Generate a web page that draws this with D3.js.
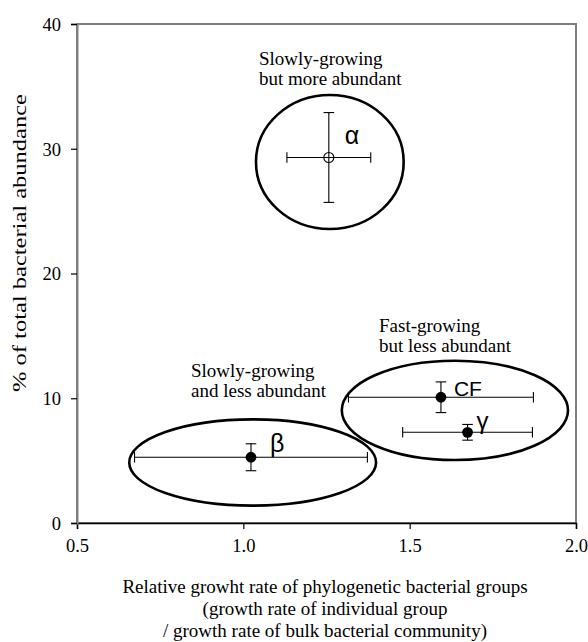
<!DOCTYPE html>
<html><head><meta charset="utf-8">
<script src="https://cdn.jsdelivr.net/npm/d3@7"></script>
<style>body{margin:0;background:#fff}svg{display:block}</style>
</head><body>
<script>
// ---- data ----
const groups = ["alpha", "beta", "CF", "gamma"];
const labels = ["α", "β", "CF", "γ"];
const growth = [1.257, 1.023, 1.594, 1.674];
const growthErr = [0.126, 0.350, 0.278, 0.195];
const abundance = [29.3, 5.27, 10.08, 7.27];
const abundanceErr = [3.6, 1.08, 1.23, 0.63];
const openMarker = [true, false, false, false];
// group ellipses (data units): centre x, centre y, radius x, radius y
const ellCx = [1.260, 1.028, 1.636];
const ellCy = [28.94, 4.85, 9.03];
const ellRx = [0.222, 0.371, 0.340];
const ellRy = [5.37, 3.46, 3.98];
const notes = [["Slowly-growing", "but more abundant"], ["Slowly-growing", "and less abundant"], ["Fast-growing", "but less abundant"]];
const xTicks = [0.5, 1.0, 1.5, 2.0];
const yTicks = [0, 10, 20, 30, 40];
const xTitle = ["Relative growht rate of phylogenetic bacterial groups", "(growth rate of individual group", "/ growth rate of bulk bacterial community)"];
const yTitle = "% of total bacterial abundance";

const W = 588, H = 642;
const L = 77, R = 576, T = 24, B = 523;
const serif = "'Liberation Serif','Times New Roman',serif";
const sans = "'Liberation Sans',Arial,sans-serif";

const svg = d3.select("body").append("svg").attr("width", W).attr("height", H);
const x = d3.scaleLinear().domain([0.5, 2.0]).range([L, R]);
const y = d3.scaleLinear().domain([0, 40]).range([B, T]);

// frame
svg.append("rect").attr("x", L).attr("y", T).attr("width", R - L).attr("height", B - T)
  .attr("fill", "none").attr("stroke", "#7f7f7f").attr("stroke-width", 2);

// axes
const xa = svg.append("g").attr("transform", `translate(0,${B})`)
  .call(d3.axisBottom(x).tickValues(xTicks).tickFormat(d3.format(".1f")).tickSize(6).tickPadding(10));
const ya = svg.append("g").attr("transform", `translate(${L},0)`)
  .call(d3.axisLeft(y).tickValues(yTicks).tickFormat(d3.format("d")).tickSize(6).tickPadding(10));
[xa, ya].forEach(g => {
  g.selectAll("text").attr("font-family", serif).attr("font-size", 18.5).attr("fill", "#000");
});
xa.select(".domain").attr("stroke", "#000").attr("stroke-width", 1.5);
xa.selectAll(".tick line").attr("stroke", "#000").attr("stroke-width", 1.2);
ya.select(".domain").attr("stroke", "#7f7f7f").attr("stroke-width", 2);
ya.selectAll(".tick line").attr("stroke", "#000").attr("stroke-width", 1.2);
ya.selectAll("text").attr("dy", "0.35em");

// ellipses
svg.append("g").selectAll("ellipse").data(ellCx).join("ellipse")
  .attr("cx", (d, i) => x(d)).attr("cy", (d, i) => y(ellCy[i]))
  .attr("rx", (d, i) => x(ellCx[i] + ellRx[i]) - x(ellCx[i]))
  .attr("ry", (d, i) => y(ellCy[i] - ellRy[i]) - y(ellCy[i]))
  .attr("fill", "none").attr("stroke", "#000").attr("stroke-width", 2.6);

// error bars
const eb = svg.append("g").attr("stroke", "#000").attr("stroke-width", 1.1);
const cap = 5.3;
groups.forEach((g, i) => {
  const cx = x(growth[i]), cy = y(abundance[i]);
  const x0 = x(growth[i] - growthErr[i]), x1 = x(growth[i] + growthErr[i]);
  const y0 = y(abundance[i] - abundanceErr[i]), y1 = y(abundance[i] + abundanceErr[i]);
  eb.append("line").attr("x1", x0).attr("x2", x1).attr("y1", cy).attr("y2", cy);
  eb.append("line").attr("x1", x0).attr("x2", x0).attr("y1", cy - cap).attr("y2", cy + cap);
  eb.append("line").attr("x1", x1).attr("x2", x1).attr("y1", cy - cap).attr("y2", cy + cap);
  eb.append("line").attr("x1", cx).attr("x2", cx).attr("y1", y0).attr("y2", y1);
  eb.append("line").attr("x1", cx - cap).attr("x2", cx + cap).attr("y1", y0).attr("y2", y0);
  eb.append("line").attr("x1", cx - cap).attr("x2", cx + cap).attr("y1", y1).attr("y2", y1);
});

// markers
svg.append("g").selectAll("circle").data(groups).join("circle")
  .attr("cx", (d, i) => x(growth[i])).attr("cy", (d, i) => y(abundance[i]))
  .attr("r", (d, i) => openMarker[i] ? 5 : 5.4)
  .attr("fill", (d, i) => openMarker[i] ? "none" : "#000")
  .attr("stroke", "#000").attr("stroke-width", (d, i) => openMarker[i] ? 1.1 : 0);

// greek / group labels (offset from point in pixels)
const lblDx = [16, 19, 13, 9];
const lblDy = [-13, -5, -1, -3];
const lblSize = [25, 25, 21, 24];
svg.append("g").selectAll("text").data(labels).join("text")
  .attr("x", (d, i) => x(growth[i]) + lblDx[i]).attr("y", (d, i) => y(abundance[i]) + lblDy[i])
  .attr("font-family", sans).attr("font-size", (d, i) => lblSize[i]).attr("fill", "#000")
  .text(d => d);

// annotation notes
const noteX = [259, 191, 379];
const noteY = [65, 376.7, 331.7];
notes.forEach((lines, i) => {
  const t = svg.append("text").attr("font-family", serif).attr("font-size", 19).attr("fill", "#000");
  lines.forEach((s, j) => t.append("tspan").attr("x", noteX[i]).attr("y", noteY[i] + j * 20).text(s));
});

// axis titles
const xt = svg.append("text").attr("font-family", serif).attr("font-size", 19).attr("fill", "#000")
  .attr("text-anchor", "middle");
xTitle.forEach((s, j) => xt.append("tspan").attr("x", 325).attr("y", 593 + j * 22).text(s));
svg.append("text").attr("font-family", serif).attr("font-size", 19).attr("fill", "#000")
  .attr("text-anchor", "middle").attr("transform", "translate(26,243) rotate(-90)")
  .attr("textLength", 298).attr("lengthAdjust", "spacingAndGlyphs").text(yTitle);
</script>
</body></html>
